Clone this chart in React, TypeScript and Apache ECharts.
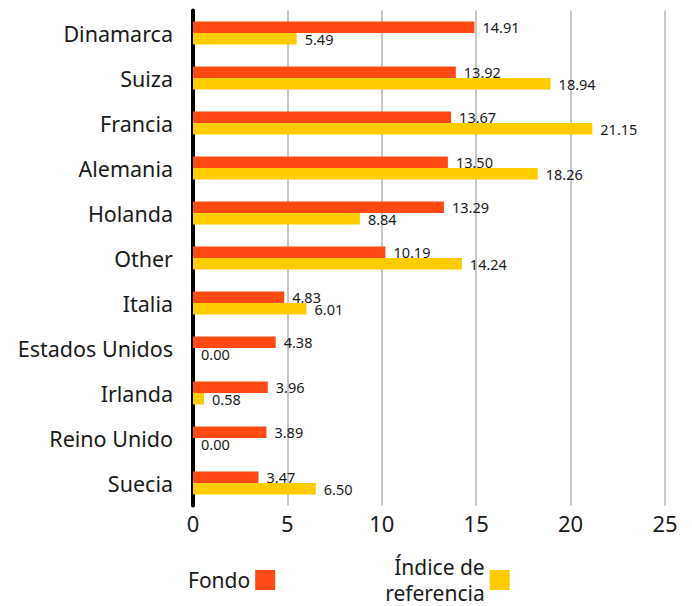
import React, { useEffect, useRef } from "react";
import * as echarts from "echarts";

const categories = [
  "Dinamarca",
  "Suiza",
  "Francia",
  "Alemania",
  "Holanda",
  "Other",
  "Italia",
  "Estados Unidos",
  "Irlanda",
  "Reino Unido",
  "Suecia",
];
const fondo = [14.91, 13.92, 13.67, 13.5, 13.29, 10.19, 4.83, 4.38, 3.96, 3.89, 3.47];
const indice = [5.49, 18.94, 21.15, 18.26, 8.84, 14.24, 6.01, 0.0, 0.58, 0.0, 6.5];
const xTicks = [0, 5, 10, 15, 20, 25];

const FONT = "'Noto Sans', 'Open Sans', sans-serif";
const TEXT = "#1a1a1a";

export default function App() {
  const ref = useRef<HTMLDivElement>(null);
  useEffect(() => {
    if (!ref.current) return;
    const chart = echarts.init(ref.current, undefined, { renderer: "svg" });
    const label = {
      show: true,
      position: "right" as const,
      distance: 8,
      fontSize: 14.5,
      color: TEXT,
      fontFamily: FONT,
      formatter: (p: any) => Number(p.value).toFixed(2),
    };
    chart.setOption({
      animation: false,
      textStyle: { fontFamily: FONT },
      grid: { left: 193, right: 27, top: 10.5, bottom: 100.5, containLabel: false },
      xAxis: {
        type: "value",
        min: xTicks[0],
        max: xTicks[xTicks.length - 1],
        interval: 5,
        axisLine: { show: false },
        axisTick: { show: false },
        splitLine: { show: true, lineStyle: { color: "#c8c8c8", width: 2 } },
        axisLabel: { fontSize: 22, color: TEXT, margin: 6, fontFamily: FONT },
      },
      yAxis: {
        type: "category",
        data: categories,
        inverse: true,
        axisLine: { show: true, lineStyle: { color: "#000", width: 4 } },
        axisTick: { show: false },
        axisLabel: { fontSize: 21.5, color: TEXT, margin: 20, fontFamily: FONT },
      },
      legend: {
        left: 183,
        top: 549,
        align: "right",
        itemWidth: 20,
        itemHeight: 20,
        itemGap: 110,
        icon: "rect",
        textStyle: { fontSize: 21, color: TEXT, lineHeight: 26, fontFamily: FONT },
        data: ["Fondo", "Índice de\nreferencia"],
      },
      series: [
        {
          name: "Fondo",
          type: "bar",
          data: fondo,
          barWidth: 11.5,
          barGap: "0%",
          itemStyle: { color: "#ff4a14" },
          label,
        },
        {
          name: "Índice de\nreferencia",
          type: "bar",
          data: indice,
          barWidth: 11.5,
          barGap: "0%",
          itemStyle: { color: "#ffcc00" },
          label,
        },
      ],
    });
    return () => chart.dispose();
  }, []);
  return (
    <div
      ref={ref}
      style={{ position: "fixed", left: 0, top: 0, width: 692, height: 606, background: "#fff" }}
    />
  );
}
